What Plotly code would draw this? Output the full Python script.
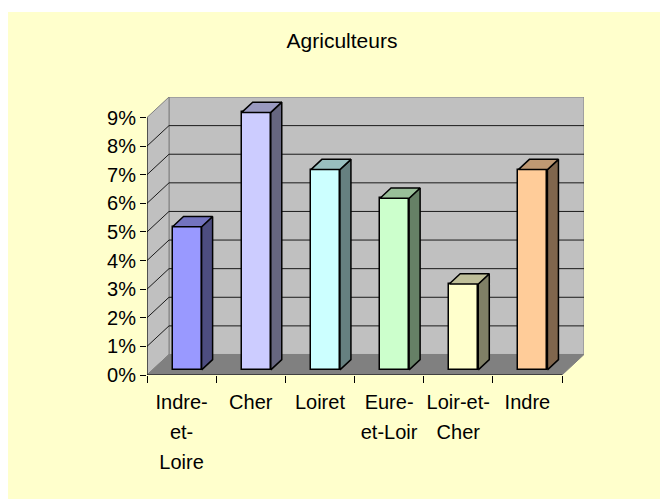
import plotly.graph_objects as go

# ---------------- data ----------------
categories = ["Indre-et-Loire", "Cher", "Loiret", "Eure-et-Loir", "Loir-et-Cher", "Indre"]
tick_lines = [["Indre-", "et-", "Loire"], ["Cher"], ["Loiret"], ["Eure-", "et-Loir"], ["Loir-et-", "Cher"], ["Indre"]]
values = [5, 9, 7, 6, 3, 7]
y_tick_values = [0, 1, 2, 3, 4, 5, 6, 7, 8, 9]
y_tick_labels = ["0%", "1%", "2%", "3%", "4%", "5%", "6%", "7%", "8%", "9%"]

front_colors = ["#9999FF", "#CCCCFF", "#CCFFFF", "#CCFFCC", "#FFFFCC", "#FFCC99"]
top_colors = ["#7373BF", "#9999BF", "#99BFBF", "#99BF99", "#BFBF99", "#BF9973"]
side_colors = ["#4D4D80", "#666680", "#668080", "#668066", "#808066", "#80664D"]

# ---------------- pseudo-3D geometry ----------------
N = len(categories)
YMAX = 9
DX, DY = 0.318, 0.717      # depth offset in axis units
W = 0.42                   # bar width in category units
F0, F1 = 0.25, 0.75        # bar front / back depth fractions
FONT = "Liberation Sans, Arial, sans-serif"

fig = go.Figure()

shapes = []
# chart area background (yellow) on white page
shapes.append(dict(type="rect", xref="paper", yref="paper", x0=-0.318, x1=1.25, y0=-0.5, y1=1.306,
                   fillcolor="#FFFFCC", line=dict(width=0), layer="below"))

def path(pts):
    return "M " + " L ".join(f"{x} {y}" for x, y in pts) + " Z"

# back wall
shapes.append(dict(type="path", xref="x", yref="y", layer="below",
                   path=path([(DX, DY), (N + DX, DY), (N + DX, YMAX + DY), (DX, YMAX + DY)]),
                   fillcolor="#C0C0C0", line=dict(color="#808080", width=1)))
# left wall
shapes.append(dict(type="path", xref="x", yref="y", layer="below",
                   path=path([(0, 0), (DX, DY), (DX, YMAX + DY), (0, YMAX)]),
                   fillcolor="#C0C0C0", line=dict(color="#808080", width=1)))
# floor
shapes.append(dict(type="path", xref="x", yref="y", layer="below",
                   path=path([(0, 0), (N, 0), (N + DX, DY), (DX, DY)]),
                   fillcolor="#808080", line=dict(color="#808080", width=1)))
# gridlines on walls
for k in y_tick_values[1:-1]:
    shapes.append(dict(type="path", xref="x", yref="y", layer="below",
                       path=f"M 0 {k} L {DX} {k + DY} L {N + DX} {k + DY}",
                       line=dict(color="#1A1A1A", width=1)))
# axis lines
shapes.append(dict(type="path", xref="x", yref="y", layer="below",
                   path=f"M 0 {YMAX} L 0 0 L {N} 0",
                   line=dict(color="#000000", width=1)))

# bars: front faces
centers = [i + 0.5 for i in range(N)]
fig.add_trace(go.Bar(
    x=[c + F0 * DX for c in centers], y=values, base=F0 * DY, width=W,
    marker=dict(color=front_colors, line=dict(color="black", width=1.5)),
    hoverinfo="skip", showlegend=False))

# bars: side and top faces
for c, v, tc, sc in zip(centers, values, top_colors, side_colors):
    xl, xr = c - W / 2, c + W / 2
    x0, y0 = F0 * DX, F0 * DY
    x1, y1 = F1 * DX, F1 * DY
    fig.add_trace(go.Scatter(
        x=[xr + x0, xr + x1, xr + x1, xr + x0, xr + x0],
        y=[y0, y1, v + y1, v + y0, y0],
        mode="lines", fill="toself", fillcolor=sc,
        line=dict(color="black", width=1.5), hoverinfo="skip", showlegend=False))
    fig.add_trace(go.Scatter(
        x=[xl + x0, xr + x0, xr + x1, xl + x1, xl + x0],
        y=[v + y0, v + y0, v + y1, v + y1, v + y0],
        mode="lines", fill="toself", fillcolor=tc,
        line=dict(color="black", width=1.5), hoverinfo="skip", showlegend=False))

tick_text = ["<br>".join(f"<span style='font-size:20px'>{s}</span>" for s in lines) for lines in tick_lines]

fig.update_layout(
    width=668, height=499, autosize=False,
    margin=dict(l=139, r=92, t=89, b=132, pad=0),
    paper_bgcolor="white", plot_bgcolor="rgba(0,0,0,0)",
    font=dict(family=FONT, color="black", size=20),
    shapes=shapes,
    title=dict(text="Agriculteurs", font=dict(size=21, family=FONT, color="black"),
               x=334 / 668, xref="container", xanchor="center",
               y=1 - 33 / 499, yref="container", yanchor="middle"),
    xaxis=dict(range=[0, N + DX], tickvals=centers, ticktext=tick_text,
               ticks="", showgrid=False, zeroline=False, showline=False,
               tickfont=dict(size=23, family=FONT, color="black"),
               ticklabelstandoff=10,
               minor=dict(tickvals=list(range(N + 1)), ticks="outside", ticklen=7,
                          tickcolor="black", tickwidth=1, showgrid=False),
               fixedrange=True),
    yaxis=dict(range=[0, YMAX + DY], tickvals=y_tick_values, ticktext=y_tick_labels,
               ticks="outside", ticklen=6, tickcolor="black", tickwidth=1,
               showgrid=False, zeroline=False, showline=False,
               tickfont=dict(size=20, family=FONT, color="black"),
               fixedrange=True),
    bargap=0,
)

fig.write_html("out.html")
